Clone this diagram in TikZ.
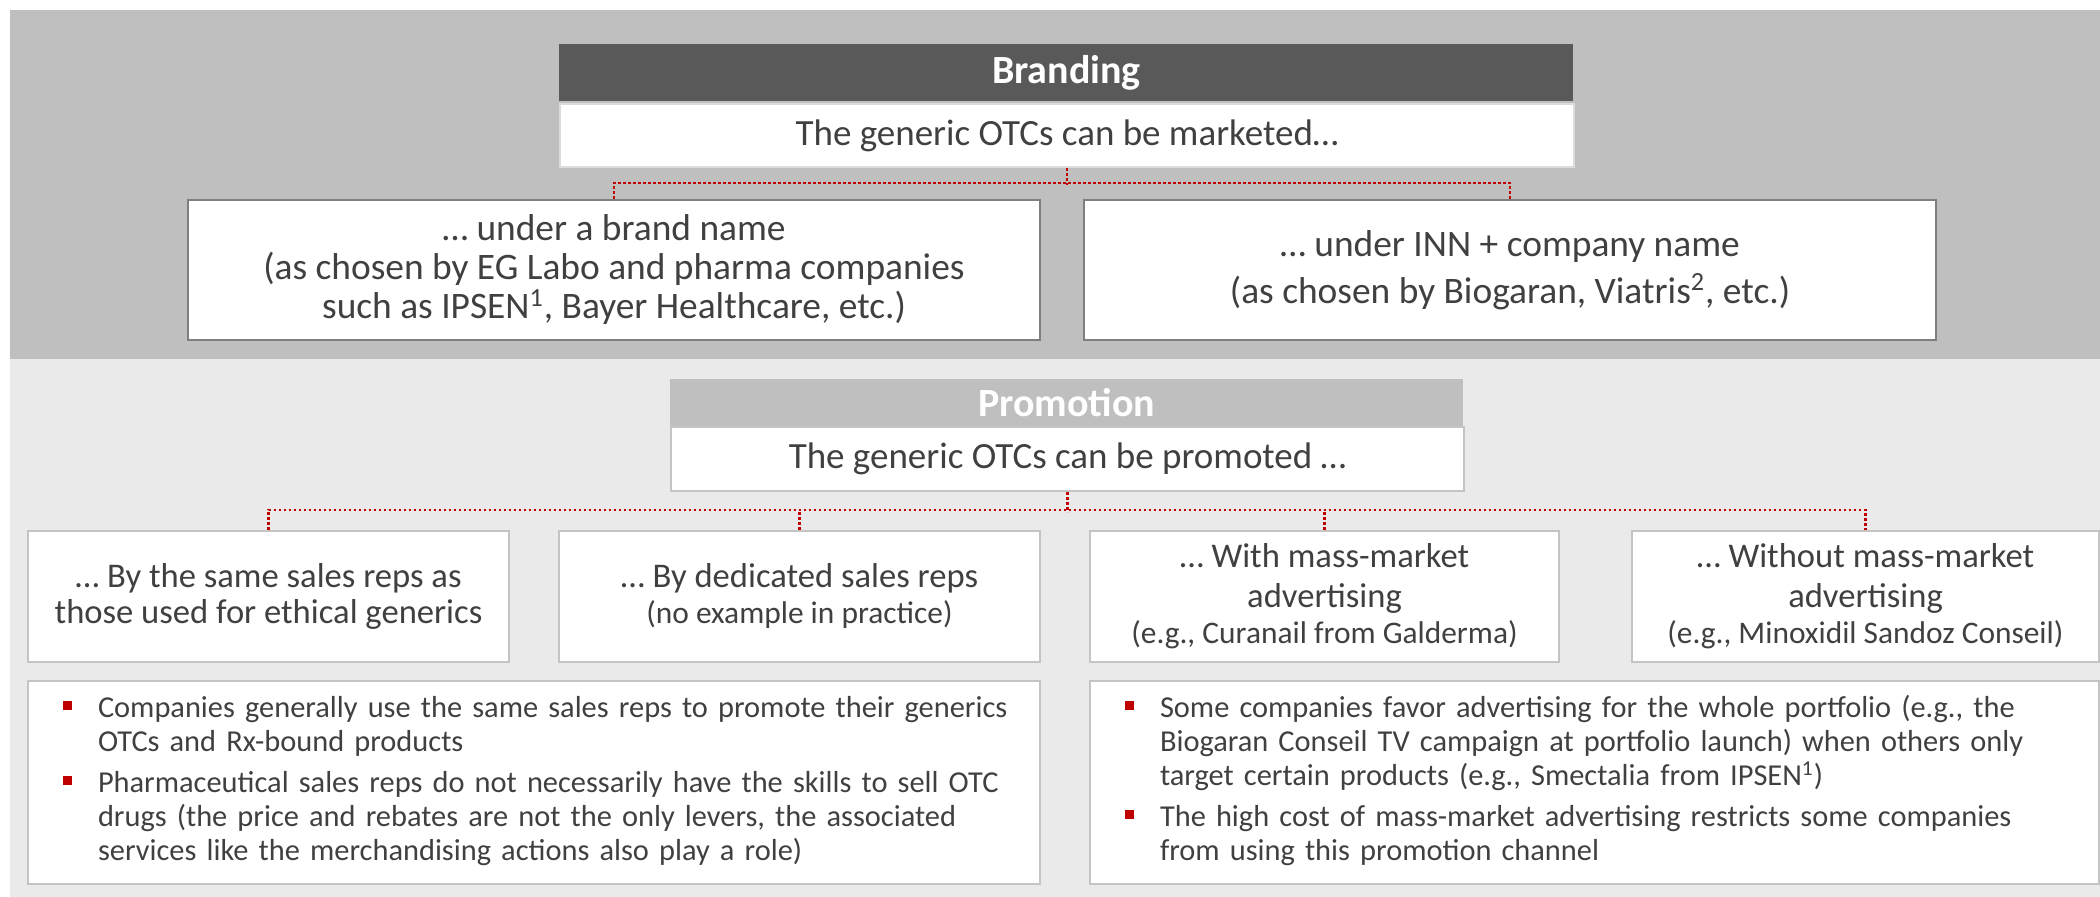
\documentclass[tikz,border=0pt]{standalone}
\usepackage{fontspec}
\setmainfont{Carlito}
\usetikzlibrary{positioning,calc}
\definecolor{bandtop}{HTML}{BFBFBF}
\definecolor{bandlow}{HTML}{EAEAEA}
\definecolor{headdark}{HTML}{595959}
\definecolor{headlight}{HTML}{BFBFBF}
\definecolor{edgedark}{HTML}{7F7F7F}
\definecolor{edgelight}{HTML}{C4C4C4}
\definecolor{txtgray}{HTML}{404040}
\definecolor{otcred}{HTML}{C00000}
\newcommand{\notemark}{\textcolor{otcred}{\rule[4pt]{4.5pt}{4.5pt}}}
\newcommand{\parenfont}{\fontsize{15.7}{18}\selectfont}
\tikzset{
  headbar/.style={anchor=north west, inner sep=0pt, fill=#1, text=white, font=\bfseries\fontsize{20}{22}\selectfont},
  subbox/.style={anchor=north west, inner sep=0pt, draw=#1, line width=1pt, fill=white, text=txtgray, font=\fontsize{18.5}{20}\selectfont},
  choicebox/.style={anchor=north west, inner sep=0pt, draw=edgedark, line width=1pt, fill=white, align=center, text=txtgray, font=\fontsize{18.7}{19.5}\selectfont, minimum width=426pt, minimum height=70pt},
  optbox/.style={anchor=north west, inner sep=0pt, draw=edgelight, line width=1pt, fill=white, align=center, text=txtgray, font=\fontsize{17.3}{18}\selectfont, minimum height=65.5pt},
  notebox/.style={anchor=north west, inner ysep=0pt, inner xsep=17.5pt, draw=edgelight, line width=1pt, fill=white, align=left, text=txtgray, font=\fontsize{15.2}{17}\selectfont, minimum height=101.5pt},
  link/.style={draw=otcred, line width=1.4pt, dash pattern=on 1.4pt off 1.1pt}
}
\begin{document}
\begin{tikzpicture}[x=0.5pt, y=-0.5pt]
  \useasboundingbox[fill=white] (0,0) rectangle (2100,897);
  % background bands
  \fill[bandtop] (10,10) rectangle (2100,359);
  \fill[bandlow] (10,359) rectangle (2100,897);

  % branding
  \node[headbar=headdark, minimum width=507pt, minimum height=28.5pt] (bhead) at (559,44) {Branding};
  \node[subbox=edgelight!60, minimum width=507pt, minimum height=31.5pt] (bsub) at (559,103) {The generic OTCs can be marketed…};
  \node[choicebox] (bleft) at (187,199) {… under a brand name\\(as chosen by EG Labo and pharma companies\\such as IPSEN\textsuperscript{1}, Bayer Healthcare, etc.)};
  \node[choicebox] (bright) at (1083,199) {… under INN + company name\\[4pt](as chosen by Biogaran, Viatris\textsuperscript{2}, etc.)};
  \draw[link] (bsub.south) -- ++(0,17);
  \draw[link] (bleft.north) -- ++(0,-16) -| (bright.north);

  % promotion
  \node[headbar=headlight, minimum width=396.5pt, minimum height=23.5pt] (phead) at (670,379) {Promotion};
  \node[subbox=edgelight, minimum width=396.5pt, minimum height=32pt] (psub) at (670,426) {The generic OTCs can be promoted …};
  \node[optbox, minimum width=240.5pt] (o1) at (27,530) {… By the same sales reps as\\those used for ethical generics};
  \node[optbox, minimum width=240.5pt] (o2) at (558,530) {… By dedicated sales reps\\{\parenfont (no example in practice)}};
  \node[optbox, minimum width=234.5pt] (o3) at (1089,530) {… With mass-market\\[2pt]advertising\\{\parenfont (e.g., Curanail from Galderma)}};
  \node[optbox, minimum width=233.5pt] (o4) at (1631,530) {… Without mass-market\\[2pt]advertising\\{\parenfont (e.g., Minoxidil Sandoz Conseil)}};
  \draw[link] (psub.south) -- ++(0,20);
  \draw[link] (o1.north) -- ++(0,-20) -| (o4.north);
  \draw[link] (o2.north) -- ++(0,-20);
  \draw[link] (o3.north) -- ++(0,-20);

  % notes
  \node[notebox, text width=471pt] (n1) at (27,680) {%
    \begin{tabular}{@{}p{17.5pt}@{}l@{}}
      \notemark & Companies generally use the same sales reps to promote their generics\\
      & OTCs and Rx-bound products\\[3.5pt]
      \notemark & Pharmaceutical sales reps do not necessarily have the skills to sell OTC\\
      & drugs (the price and rebates are not the only levers, the associated\\
      & services like the merchandising actions also play a role)
    \end{tabular}};
  \node[notebox, text width=469.5pt] (n2) at (1089,680) {%
    \begin{tabular}{@{}p{17.5pt}@{}l@{}}
      \notemark & Some companies favor advertising for the whole portfolio (e.g., the\\
      & Biogaran Conseil TV campaign at portfolio launch) when others only\\
      & target certain products (e.g., Smectalia from IPSEN\textsuperscript{1})\\[3.5pt]
      \notemark & The high cost of mass-market advertising restricts some companies\\
      & from using this promotion channel
    \end{tabular}};
\end{tikzpicture}
\end{document}
